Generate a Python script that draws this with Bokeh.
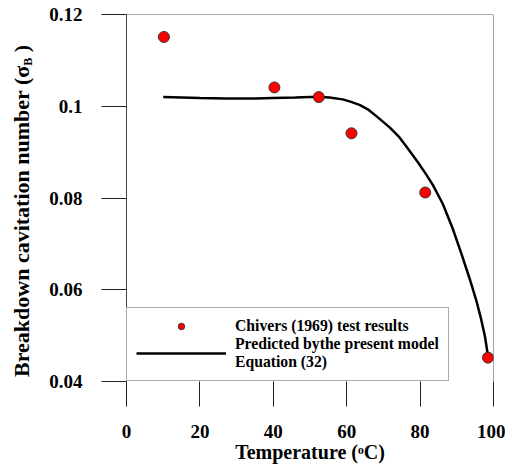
from bokeh.plotting import figure
from bokeh.models import Range1d, FixedTicker, Span, Legend, LegendItem, Div
from bokeh.layouts import row
from bokeh.embed import file_html
from bokeh.resources import INLINE

# ---- data ----
test_temp = [10.2, 40.3, 52.4, 61.3, 81.4, 98.5]
test_sigma = [0.1151, 0.1041, 0.1020, 0.0941, 0.0812, 0.0452]

model_temp = [10, 20, 27, 35, 40, 46, 50, 53, 55.3, 58.9, 61, 63.5, 66, 68, 71.7, 74.4,
              76.2, 79.4, 81.6, 83.5, 86.2, 88.9, 91.2, 93.5, 95.3, 96.6, 97.7, 98.5]
model_sigma = [0.1020, 0.1018, 0.1017, 0.1017, 0.1018, 0.1019, 0.1020, 0.1020, 0.1019,
               0.1015, 0.1010, 0.1003, 0.0992, 0.0979, 0.0954, 0.0932,
               0.0913, 0.0878, 0.0852, 0.0828, 0.0787, 0.0733, 0.0680, 0.0624, 0.0577,
               0.0537, 0.0497, 0.0455]

x_ticks = [0, 20, 40, 60, 80, 100]
y_ticks = [0.04, 0.06, 0.08, 0.10, 0.12]
y_tick_labels = ["0.04", "0.06", "0.08", "0.1", "0.12"]

FONT = "Liberation Serif"
TITLE_W = 40

p = figure(width=505 - TITLE_W, height=465, output_backend="svg", toolbar_location=None,
           x_range=Range1d(0, 100), y_range=Range1d(0.04, 0.12),
           min_border_left=126 - TITLE_W, min_border_right=12, min_border_top=14,
           min_border_bottom=84)
p.outline_line_color = None
p.grid.visible = False
p.background_fill_color = "white"
p.border_fill_color = "white"

# axes
xa = p.xaxis[0]
xa.ticker = FixedTicker(ticks=x_ticks)
xa.axis_line_color = None
xa.major_tick_out = 25
xa.major_tick_in = 0
xa.minor_tick_line_color = None
xa.major_tick_line_color = "#222222"
xa.major_label_text_font = FONT
xa.major_label_text_font_style = "bold"
xa.major_label_text_font_size = "19px"
xa.major_label_text_color = "black"
xa.major_label_standoff = 18
xa.axis_label = "Temperature (\u1d52C)"
xa.axis_label_text_font = FONT
xa.axis_label_text_font_style = "bold"
xa.axis_label_text_font_size = "20px"
xa.axis_label_text_color = "black"
xa.axis_label_standoff = 0

ya = p.yaxis[0]
ya.ticker = FixedTicker(ticks=y_ticks)
ya.major_label_overrides = {t: l for t, l in zip(y_ticks, y_tick_labels)}
ya.axis_line_color = "#444444"
ya.major_tick_out = 25
ya.major_tick_in = 0
ya.minor_tick_line_color = None
ya.major_tick_line_color = "#222222"
ya.major_label_text_font = FONT
ya.major_label_text_font_style = "bold"
ya.major_label_text_font_size = "19px"
ya.major_label_text_color = "black"
ya.major_label_standoff = 19

# top and right frame lines
p.add_layout(Span(location=0.12, dimension="width", line_color="#555555", line_width=1))
p.add_layout(Span(location=100, dimension="height", line_color="#444444", line_width=1))

# data
ln = p.line(model_temp, model_sigma, line_color="black", line_width=2.5)
sc = p.scatter(test_temp, test_sigma, size=11, fill_color="red", line_color="#333333",
               line_width=1)

legend = Legend(items=[LegendItem(label="Chivers (1969) test results", renderers=[sc]),
                       LegendItem(label="Predicted bythe present model\nEquation (32)",
                                  renderers=[ln])],
                location=(0, 0), margin=0, padding=9, spacing=0,
                glyph_width=90, glyph_height=16, label_standoff=9,
                label_text_font=FONT, label_text_font_style="bold",
                label_text_font_size="15.7px", label_text_color="black",
                border_line_color="#555555", border_line_width=1,
                background_fill_alpha=1.0)
p.add_layout(legend, "center")

# y-axis title (rotated HTML text with a real subscript)
ytitle_html = (
    '<div style="transform: translate(11px, 377px) rotate(-90deg); '
    'transform-origin: 0 0; white-space: nowrap; font-family: \'Liberation Serif\'; '
    'font-weight: bold; font-size: 22px; line-height: 22px; color: black;">'
    'Breakdown cavitation number (\u03c3<span style="font-size: 12px; '
    'vertical-align: -3px;">B</span> )</div>'
)
ytitle = Div(text=ytitle_html, width=TITLE_W, height=465, margin=0,
             styles={"overflow": "visible"})

layout = row(ytitle, p, spacing=0)
open("out.html", "w").write(file_html(layout, INLINE))
